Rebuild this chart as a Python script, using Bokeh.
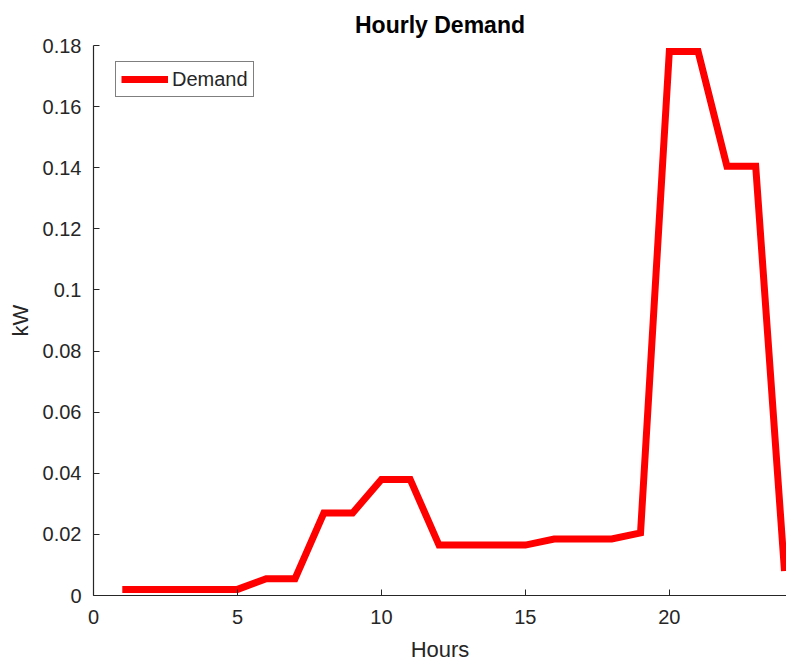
from bokeh.plotting import figure
from bokeh.models import Range1d, FixedTicker, Legend, LegendItem
from bokeh.embed import file_html
from bokeh.resources import INLINE

hours = list(range(1, 25))
demand = [0.002, 0.002, 0.002, 0.002, 0.002, 0.0055, 0.0055, 0.027, 0.027, 0.038,
          0.038, 0.0165, 0.0165, 0.0165, 0.0165, 0.0185, 0.0185, 0.0185, 0.0205, 0.178,
          0.178, 0.1405, 0.1405, 0.008]
x_ticks = [0, 5, 10, 15, 20, 25]
y_ticks = [0, 0.02, 0.04, 0.06, 0.08, 0.1, 0.12, 0.14, 0.16, 0.18]
y_tick_labels = ["0", "0.02", "0.04", "0.06", "0.08", "0.1", "0.12", "0.14", "0.16", "0.18"]

FONT = "Liberation Sans"
DARK = "#262626"

p = figure(frame_width=693, frame_height=550, output_backend="svg", toolbar_location=None,
           x_range=Range1d(0, 24.07), y_range=Range1d(0, 0.18),
           min_border_left=93, min_border_right=0, min_border_top=45, min_border_bottom=69,
           outline_line_color=None, background_fill_color="white", border_fill_color="white")

p.title.text = "Hourly Demand"
p.title.align = "center"
p.title.text_font = FONT
p.title.text_font_size = "23px"
p.title.text_font_style = "bold"
p.title.text_color = "black"
p.title.offset = 0
p.title.standoff = 16

r = p.line(hours, demand, line_color="red", line_width=7, line_join="miter")

p.xgrid.visible = False
p.ygrid.visible = False

for ax in (p.xaxis[0], p.yaxis[0]):
    ax.axis_line_color = DARK
    ax.axis_line_width = 1.2
    ax.major_tick_line_color = DARK
    ax.major_tick_in = 6
    ax.major_tick_out = 0
    ax.minor_tick_line_color = None
    ax.major_label_text_font = FONT
    ax.major_label_text_font_size = "20px"
    ax.major_label_text_color = DARK
    ax.axis_label_text_font = FONT
    ax.axis_label_text_font_size = "22px"
    ax.axis_label_text_font_style = "normal"
    ax.axis_label_text_color = DARK

p.xaxis[0].ticker = FixedTicker(ticks=x_ticks)
p.yaxis[0].ticker = FixedTicker(ticks=y_ticks)
p.yaxis[0].major_label_overrides = {t: l for t, l in zip(y_ticks, y_tick_labels)}
p.xaxis[0].axis_label = "Hours"
p.yaxis[0].axis_label = "kW"
p.xaxis[0].major_label_standoff = 14
p.yaxis[0].major_label_standoff = 12
p.xaxis[0].axis_label_standoff = 10
p.yaxis[0].axis_label_standoff = 7

legend = Legend(items=[LegendItem(label="Demand", renderers=[r])], location=(22, 498),
                border_line_color="black", border_line_width=1,
                label_text_font=FONT, label_text_font_size="20px", label_text_color=DARK,
                glyph_width=47, glyph_height=24, label_height=24, padding=5, spacing=0, margin=0,
                label_standoff=4, background_fill_color="white")
p.add_layout(legend)

open("out.html", "w").write(file_html(p, INLINE))
